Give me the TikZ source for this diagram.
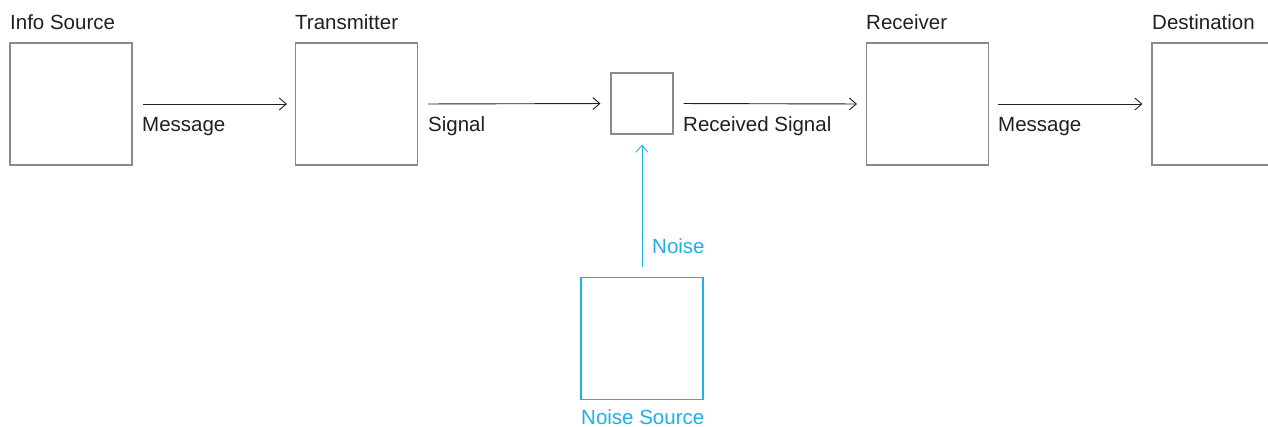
\documentclass[tikz,border=0pt]{standalone}
\usepackage{fontspec}
\setmainfont{Liberation Sans}
\usetikzlibrary{arrows.meta}
\definecolor{boxgray}{HTML}{8A8A8A}
\definecolor{txt}{HTML}{231F20}
\definecolor{noiseblue}{HTML}{1FB0E6}
\tikzset{
  box/.style={draw=boxgray, line width=1.1pt, inner sep=0pt, minimum width=122pt, minimum height=122pt},
  smallbox/.style={draw=boxgray, line width=1.1pt, inner sep=0pt, minimum width=62pt, minimum height=61pt},
  lbl/.style={anchor=base west, inner sep=0pt, text=txt, font=\fontsize{20.5}{24}\selectfont},
  conn/.style={draw=txt, line width=0.9pt, -{Straight Barb[length=7pt,width=12pt,line width=0.9pt]}},
}
\begin{document}
\begin{tikzpicture}[x=1pt,y=-1pt]
\useasboundingbox (0,0) rectangle (1268,426);
\fill[white] (0,0) rectangle (1268,426);
% boxes
\node[box] (src) at (71,104) {};
\node[box] (tx) at (356.5,104) {};
\node[smallbox] (mix) at (642,103.5) {};
\node[box] (rx) at (927.5,104) {};
\node[box] (dst) at (1213,104) {};
\node[box, draw=noiseblue] (ns) at (642,338.5) {};
% titles
\node[lbl] (tsrc) at (10,29) {Info Source};
\node[lbl] (ttx) at (295,29) {Transmitter};
\node[lbl] (trx) at (866,29) {Receiver};
\node[lbl] (tdst) at (1152,29) {Destination};
\node[lbl, text=noiseblue] (tns) at (581,424) {Noise Source};
% connectors
\draw[conn, shorten <=10pt, shorten >=8pt] (src.east) -- (tx.west);
\draw[conn, shorten <=10pt, shorten >=10pt] (tx.east) -- (mix.west);
\draw[conn, shorten <=10pt, shorten >=9pt] (mix.east) -- (rx.west);
\draw[conn, shorten <=9pt, shorten >=9pt] (rx.east) -- (dst.west);
\draw[conn, draw=noiseblue, shorten <=10pt, shorten >=10pt] (ns.north) -- (mix.south);
% connector labels
\node[lbl] (l1) at (142,131) {Message};
\node[lbl] (l2) at (428,131) {Signal};
\node[lbl] (l3) at (683,131) {Received Signal};
\node[lbl] (l4) at (998,131) {Message};
\node[lbl, text=noiseblue] (l5) at (652,253) {Noise};
\end{tikzpicture}
\end{document}
